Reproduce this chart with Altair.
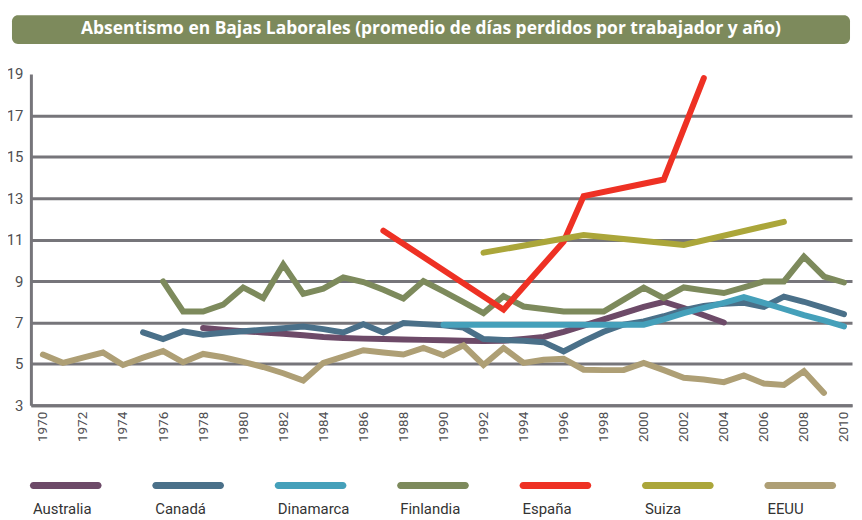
import altair as alt
import pandas as pd

TITLE = "Absentismo en Bajas Laborales (promedio de días perdidos por trabajador y año)"

countries = ["Australia", "Canadá", "Dinamarca", "Finlandia", "España", "Suiza", "EEUU"]
colors = ["#6d4a68", "#4a7089", "#45a0ba", "#7d8a5c", "#ee3124", "#aba63a", "#ae9f75"]

australia_years = list(range(1978, 2005))
australia = [6.73, 6.65, 6.58, 6.52, 6.46, 6.38, 6.30, 6.25, 6.22, 6.20,
             6.18, 6.16, 6.14, 6.12, 6.10, 6.12, 6.20, 6.30, 6.55, 6.85,
             7.15, 7.45, 7.75, 8.00, 7.70, 7.35, 7.00]

canada_years = list(range(1975, 2011))
canada = [6.52, 6.20, 6.57, 6.41, 6.50, 6.58, 6.65, 6.72, 6.80, 6.68,
          6.52, 6.92, 6.52, 6.97, 6.92, 6.87, 6.75, 6.20, 6.15, 6.12,
          6.05, 5.60, 6.10, 6.55, 6.90, 7.05, 7.30, 7.60, 7.80, 7.90,
          7.95, 7.75, 8.25, 8.00, 7.70, 7.40]

dinamarca_years = list(range(1990, 2011))
dinamarca = [6.89, 6.89, 6.89, 6.89, 6.89, 6.89, 6.89, 6.89, 6.89, 6.89,
             6.89, 7.15, 7.45, 7.70, 7.95, 8.22, 7.95, 7.65, 7.35, 7.10, 6.81]

finlandia_years = list(range(1976, 2011))
finlandia = [8.98, 7.53, 7.53, 7.86, 8.69, 8.18, 9.80, 8.38, 8.63, 9.18,
             8.95, 8.58, 8.16, 9.00, 8.50, 7.98, 7.45, 8.27, 7.77, 7.65,
             7.53, 7.53, 7.53, 8.10, 8.68, 8.18, 8.69, 8.55, 8.42, 8.70,
             8.98, 8.98, 10.18, 9.22, 8.93]

espana_years = [1987, 1993, 1996, 1997, 2001, 2003]
espana = [11.43, 7.62, 10.90, 13.10, 13.90, 18.80]

suiza_years = [1992, 1997, 2002, 2007]
suiza = [10.37, 11.22, 10.74, 11.86]

eeuu_years = list(range(1970, 2010))
eeuu = [5.45, 5.05, 5.30, 5.55, 4.95, 5.30, 5.62, 5.08, 5.48, 5.32,
        5.10, 4.85, 4.55, 4.20, 5.05, 5.35, 5.66, 5.55, 5.45, 5.77,
        5.42, 5.90, 4.95, 5.77, 5.05, 5.20, 5.25, 4.72, 4.70, 4.70,
        5.05, 4.70, 4.33, 4.25, 4.12, 4.44, 4.05, 3.98, 4.65, 3.60]

y_ticks = list(range(3, 20, 2))
x_ticks = list(range(1970, 2011, 2))

series = [
    ("Australia", australia_years, australia),
    ("Canadá", canada_years, canada),
    ("Dinamarca", dinamarca_years, dinamarca),
    ("Finlandia", finlandia_years, finlandia),
    ("España", espana_years, espana),
    ("Suiza", suiza_years, suiza),
    ("EEUU", eeuu_years, eeuu),
]
rows = []
for i, (name, yrs, vals) in enumerate(series):
    for yr, v in zip(yrs, vals):
        rows.append({"country": name, "year": yr, "value": v, "k": i})
df = pd.DataFrame(rows)
legend_df = pd.DataFrame({"country": countries})

GRID = "#76757a"
FONT = "Roboto"
LABEL = "#4f4f52"

color_scale = alt.Scale(domain=countries, range=colors)

lines = alt.Chart(df).mark_line(strokeWidth=6, strokeCap="round", strokeJoin="miter").encode(
    x=alt.X("year:Q", scale=alt.Scale(domain=[1969.4, 2010.4], nice=False, zero=False),
            axis=alt.Axis(values=x_ticks, format="d", labelAngle=-90, ticks=False, grid=False,
                          domain=True, domainColor=GRID, domainWidth=3, labelPadding=6,
                          labelFontSize=13.5, labelColor=LABEL, labelFont=FONT,
                          labelFontWeight="normal", title=None)),
    y=alt.Y("value:Q", scale=alt.Scale(domain=[3, 19], nice=False, zero=False),
            axis=alt.Axis(values=y_ticks, ticks=False, grid=True, gridColor=GRID, gridWidth=3,
                          gridOpacity={"condition": {"test": "datum.value === 19", "value": 0}, "value": 1},
                          domain=True, domainColor=GRID, domainWidth=3, labelPadding=8,
                          labelFontSize=15, labelColor=LABEL, labelFont=FONT,
                          labelFontWeight="normal", title=None)),
    color=alt.Color("country:N", scale=color_scale, legend=None),
    order=alt.Order("k:Q"),
)

band = alt.Scale(domain=countries, range=[-1, 809], paddingInner=0.4146, paddingOuter=0)

leg_bars = alt.Chart(legend_df).mark_bar(cornerRadius=3.5).encode(
    x=alt.X("country:N", scale=band, axis=None, sort=countries),
    y=alt.value(410),
    y2=alt.value(417),
    color=alt.Color("country:N", scale=color_scale, legend=None),
)
leg_text = alt.Chart(legend_df).mark_text(align="left", baseline="middle", dx=3,
                                          font=FONT, fontSize=15, color="#333333",
                                          fontWeight="normal").encode(
    x=alt.X("country:N", scale=band, axis=None, sort=countries, bandPosition=0),
    y=alt.value(437),
    text="country:N",
)
legend = alt.layer(leg_bars, leg_text)

one = pd.DataFrame({"t": [TITLE]})
title_rect = alt.Chart(one).mark_rect(color="#7d8a5c", cornerRadius=6).encode(
    x=alt.value(-19), x2=alt.value(823), y=alt.value(-59), y2=alt.value(-30)
)
title_text = alt.Chart(one).mark_text(font="Open Sans", fontSize=17.5, fontWeight="bold",
                                      color="white", align="center", baseline="middle").encode(
    x=alt.value(402), y=alt.value(-45), text="t:N"
)

chart = alt.layer(title_rect, title_text, lines, legend).resolve_scale(
    x="independent"
).properties(
    width=825, height=333,
    autosize=alt.AutoSizeParams(type="none"),
    padding={"left": 23, "top": 65, "right": 2, "bottom": 114},
).configure_view(stroke=None)

chart.save("out.html", embed_options={"renderer": "svg", "actions": False})
